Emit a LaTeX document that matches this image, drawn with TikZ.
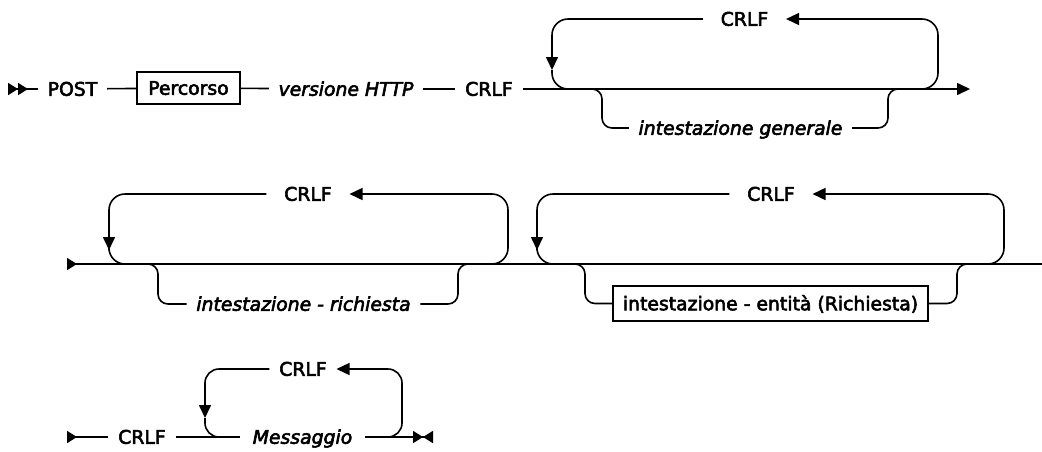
\documentclass[tikz,border=0pt]{standalone}
\usepackage{fontspec}
\setmainfont{DejaVu Sans}[FakeBold=3]
\usetikzlibrary{arrows.meta}

\tikzset{every picture/.style={line width=1.6pt}}
\tikzset{
  kw/.style={inner xsep=9pt, inner ysep=0pt, text height=13.5pt, text depth=0pt, font=\fontsize{18.8}{22}\selectfont},
  var/.style={kw, font=\fontsize{18.8}{22}\selectfont\itshape},
  wide/.style={kw, inner xsep=17pt},
  refbox/.style={kw, draw, inner xsep=0pt, line width=1.3pt},
  tip/.style={-{Triangle[length=13pt,width=12pt]}},
  begin/.style={{Triangle[reversed,length=10pt,width=12pt]}-},
  first/.style={{Triangle[reversed,length=10pt,width=12pt]Triangle[reversed,length=10pt,width=12pt]}-},
  last/.style={-{Triangle[length=10pt,width=12pt]Triangle[reversed,length=10pt,width=12pt]}},
}

\begin{document}
\begin{tikzpicture}[x=1pt,y=1pt,yscale=-1,xscale=1]
\useasboundingbox (0,0) rectangle (1042,451);

% ---------- first row ----------
% Text Node
\draw (72.5,89) node (post) [kw] {POST};
% Text Node
\draw (188.5,88) node (percorso) [refbox, minimum width=103pt, minimum height=32pt] {Percorso};
% Text Node
\draw (346,89) node (vers) [var] {versione HTTP};
% Text Node
\draw (489,89) node (crlfa) [kw] {CRLF};
% Text Node
\draw (744.5,19) node (crlfb) [wide] {CRLF};
% Text Node
\draw (740.5,128) node (gen) [var] {intestazione generale};

\coordinate (s1) at (8,89);
\coordinate (e1) at (970,89);
\coordinate (d1) at (552,70);
\coordinate (j1) at (580,89);
\coordinate (k1) at (915,89);
\coordinate (r1) at (938,19);
\coordinate (g1a) at (590,89);
\coordinate (g1l) at (602,128);
\coordinate (g1r) at (888,128);
\coordinate (g1k) at (900,89);

%Straight Lines
\draw [first] (s1) -- (post);
\draw (post) -- (percorso);
\draw (percorso) -- (vers);
\draw (vers) -- (crlfa);
\draw [tip] (crlfa) -- (e1);
%Repeat loop
\draw [tip, rounded corners=16pt] (crlfb.west) -| (d1);
\draw [rounded corners=16pt] (d1) |- (j1);
\draw [tip, rounded corners=16pt] (k1) -| (r1) -- (crlfb.east);
%Optional branch
\draw [rounded corners=10pt] (g1a) -| (g1l) -- (gen.west);
\draw [rounded corners=10pt] (gen.east) -- (g1r) |- (g1k);

% ---------- second row ----------
% Text Node
\draw (308,194) node (crlfc) [wide] {CRLF};
% Text Node
\draw (303.5,304) node (req) [var] {intestazione - richiesta};
% Text Node
\draw (771,194) node (crlfd) [wide] {CRLF};
% Text Node
\draw (770.5,303.5) node (ent) [refbox, minimum width=315pt, minimum height=35pt] {intestazione - entità (Richiesta)};

\coordinate (s2) at (67,264);
\coordinate (e2) at (1042,264);
\coordinate (d2) at (109,250);
\coordinate (j2) at (135,264);
\coordinate (k2) at (480,264);
\coordinate (r2) at (508,194);
\coordinate (b2a) at (148,264);
\coordinate (b2l) at (158,304);
\coordinate (b2r) at (458,304);
\coordinate (b2k) at (470,264);
\coordinate (d3) at (537,250);
\coordinate (j3) at (563,264);
\coordinate (k3) at (976,264);
\coordinate (r3) at (1004,194);
\coordinate (c2a) at (575,264);
\coordinate (c2l) at (585,303.5);
\coordinate (c2r) at (957,303.5);
\coordinate (c2k) at (969,264);

%Straight Lines
\draw [begin] (s2) -- (e2);
%Repeat loop
\draw [tip, rounded corners=16pt] (crlfc.west) -| (d2);
\draw [rounded corners=16pt] (d2) |- (j2);
\draw [tip, rounded corners=16pt] (k2) -| (r2) -- (crlfc.east);
%Optional branch
\draw [rounded corners=10pt] (b2a) -| (b2l) -- (req.west);
\draw [rounded corners=10pt] (req.east) -- (b2r) |- (b2k);
%Repeat loop
\draw [tip, rounded corners=16pt] (crlfd.west) -| (d3);
\draw [rounded corners=16pt] (d3) |- (j3);
\draw [tip, rounded corners=16pt] (k3) -| (r3) -- (crlfd.east);
%Optional branch
\draw [rounded corners=10pt] (c2a) -| (c2l) -- (ent.west);
\draw [rounded corners=10pt] (ent.east) -- (c2r) |- (c2k);

% ---------- third row ----------
% Text Node
\draw (142,437) node (crlfe) [kw] {CRLF};
% Text Node
\draw (302.5,437) node (mess) [var, inner xsep=12pt] {Messaggio};
% Text Node
\draw (303,369) node (crlff) [kw] {CRLF};

\coordinate (s3) at (67,437);
\coordinate (e3) at (433,437);
\coordinate (d4) at (205,418);
\coordinate (j4) at (225,437);
\coordinate (k4) at (385,437);
\coordinate (r4) at (402,369);

%Straight Lines
\draw [begin] (s3) -- (crlfe);
\draw (crlfe) -- (mess);
\draw [last] (mess) -- (e3);
%Repeat loop
\draw [tip, rounded corners=14pt] (crlff.west) -| (d4);
\draw [rounded corners=14pt] (d4) |- (j4);
\draw [tip, rounded corners=14pt] (k4) -| (r4) -- (crlff.east);

\end{tikzpicture}
\end{document}
